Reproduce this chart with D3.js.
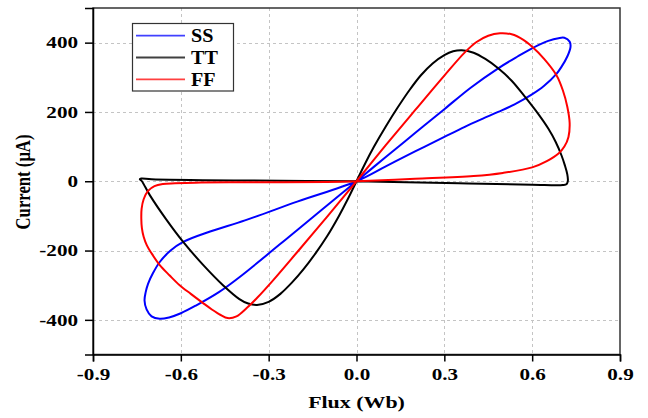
<!DOCTYPE html>
<html>
<head>
<meta charset="utf-8">
<script src="https://cdn.jsdelivr.net/npm/d3@7"></script>
<style>
  html, body { margin: 0; padding: 0; background: #fff; }
  svg { display: block; }
  text { font-family: "Liberation Serif", "Times New Roman", serif; font-weight: bold; fill: #000; }
</style>
</head>
<body>
<svg id="chart" width="648" height="418"></svg>
<script>
// Pinched hysteresis loops: current vs flux for three process corners
const seriesNames = ["SS", "TT", "FF"];
const seriesColors = ["#0000ff", "#000000", "#ff0000"];

const ssFlux = [0, 0.1, 0.2, 0.3, 0.39, 0.484, 0.55, 0.598, 0.655, 0.69, 0.71, 0.728, 0.731, 0.72, 0.70, 0.683, 0.64, 0.598, 0.54, 0.484, 0.43, 0.37, 0.3, 0.2, 0.1, 0,
  -0.2, -0.381, -0.5, -0.592, -0.635, -0.672, -0.695, -0.712, -0.72, -0.724, -0.717, -0.70, -0.672, -0.64, -0.6, -0.547, -0.47, -0.4, -0.2, 0];
const ssCurrent = [0, 70, 139, 208, 270, 326, 360, 383, 405, 413, 414, 403, 388, 360, 330, 310, 275, 250, 222, 200, 180, 157, 128, 86, 43, 0,
  -58, -113, -145, -175, -200, -233, -265, -296, -320, -344, -370, -390, -397, -393, -381, -358, -320, -277, -139, 0];

const ttFlux = [0, 0.03, 0.06, 0.10, 0.14, 0.18, 0.22, 0.26, 0.30, 0.33, 0.36, 0.40, 0.44, 0.484, 0.53, 0.575, 0.62, 0.655, 0.68, 0.70, 0.712, 0.72, 0.722, 0.718, 0.705, 0.6, 0.35, 0,
  -0.38, -0.70, -0.735, -0.74, -0.733, -0.706, -0.65, -0.592, -0.52, -0.456, -0.40, -0.37, -0.34, -0.30, -0.26, -0.22, -0.18, -0.14, -0.10, -0.06, -0.03, 0];
const ttCurrent = [0, 52, 100, 158, 212, 262, 306, 340, 364, 375, 378, 371, 353, 326, 290, 244, 195, 152, 114, 75, 45, 20, 2, -8, -11, -10, -6, 0,
  2, 6, 8, 6, 0, -40, -110, -175, -245, -300, -340, -353, -357, -348, -325, -292, -253, -208, -158, -100, -52, 0];

const ffFlux = [0, 0.1, 0.2, 0.3, 0.37, 0.41, 0.45, 0.49, 0.53, 0.57, 0.6, 0.64, 0.683, 0.705, 0.72, 0.728, 0.724, 0.71, 0.69, 0.65, 0.6, 0.5, 0.4, 0.2, 0,
  -0.1, -0.38, -0.55, -0.62, -0.661, -0.69, -0.712, -0.727, -0.734, -0.735, -0.733, -0.727, -0.716, -0.70, -0.672, -0.638, -0.604, -0.566, -0.525, -0.494, -0.464, -0.44, -0.41, -0.375, -0.34, -0.285, -0.2, -0.1, 0];
const ffCurrent = [0, 104, 205, 305, 372, 402, 420, 427, 424, 408, 388, 354, 306, 262, 215, 168, 128, 100, 80, 58, 40, 24, 15, 7, 0,
  -2, -3, -4, -6, -8, -14, -28, -52, -80, -108, -135, -160, -185, -208, -242, -272, -300, -325, -351, -370, -386, -395, -390, -366, -337, -286, -202, -102, 0];

const xTicks = [-0.9, -0.6, -0.3, 0.0, 0.3, 0.6, 0.9];
const yTicks = [-400, -200, 0, 200, 400];
const xDomain = [-0.9, 0.9];
const yDomain = [-500, 500];

const series = [
  { name: seriesNames[0], color: seriesColors[0], flux: ssFlux, current: ssCurrent },
  { name: seriesNames[1], color: seriesColors[1], flux: ttFlux, current: ttCurrent },
  { name: seriesNames[2], color: seriesColors[2], flux: ffFlux, current: ffCurrent }
];

const svg = d3.select("#chart");
const plot = { left: 93, right: 620, top: 8, bottom: 354.5 };

const x = d3.scaleLinear().domain(xDomain).range([plot.left, plot.right]);
const y = d3.scaleLinear().domain(yDomain).range([plot.bottom, plot.top]);

// grid
const grid = svg.append("g").attr("stroke", "#c4c4c4").attr("stroke-width", 1).attr("stroke-dasharray", "3,3");
grid.selectAll("line.gx").data(xTicks.slice(1, -1)).join("line")
  .attr("x1", d => Math.round(x(d)) + 0.5).attr("x2", d => Math.round(x(d)) + 0.5)
  .attr("y1", plot.top).attr("y2", plot.bottom);
grid.selectAll("line.gy").data(yTicks).join("line")
  .attr("x1", plot.left).attr("x2", plot.right)
  .attr("y1", d => Math.round(y(d)) + 0.5).attr("y2", d => Math.round(y(d)) + 0.5);

// curves
const line = d3.line().x(d => x(d[0])).y(d => y(d[1])).curve(d3.curveCatmullRom.alpha(0.5));
const curves = svg.append("g").attr("fill", "none").attr("stroke-width", 2).attr("stroke-linejoin", "round");
series.forEach(s => {
  curves.append("path")
    .attr("d", line(d3.zip(s.flux, s.current)))
    .attr("stroke", s.color);
});

// frame (top / right)
svg.append("rect")
  .attr("x", plot.left).attr("y", plot.top)
  .attr("width", plot.right - plot.left).attr("height", plot.bottom - plot.top)
  .attr("fill", "none").attr("stroke", "#333").attr("stroke-width", 1.5);

// axes (plain hyphen for negative labels)
const hyphen = f => d => f(d).replace("\u2212", "-");
const sx = 1.28;
const xAxis = d3.axisBottom(x).tickValues(xTicks).tickFormat(hyphen(d3.format(".1f"))).tickSize(7).tickPadding(7);
const yAxis = d3.axisLeft(y).tickValues(yTicks).tickFormat(hyphen(d3.format("d"))).tickSize(8).tickPadding(7);

const gx = svg.append("g").attr("transform", `translate(0,${plot.bottom})`).call(xAxis);
const gy = svg.append("g").attr("transform", `translate(${plot.left},0)`).call(yAxis);
[gx, gy].forEach(g => {
  g.attr("font-family", null);
  g.select(".domain").attr("stroke", "#000").attr("stroke-width", 1.5);
  g.selectAll(".tick line").attr("stroke", "#000").attr("stroke-width", 1.5);
  g.selectAll(".tick text").attr("font-size", 16.5);
});
gx.selectAll(".tick text").attr("transform", `scale(${sx},1)`);
gy.selectAll(".tick text").attr("x", -15 / sx).attr("transform", `scale(${sx},1)`);

// axis titles
svg.append("text")
  .attr("transform", `translate(${(plot.left + plot.right) / 2},408) scale(1.37,1)`)
  .attr("text-anchor", "middle").attr("font-size", 16)
  .text("Flux (Wb)");
svg.append("text")
  .attr("transform", `translate(30,182) rotate(-90) scale(1,1.25)`)
  .attr("text-anchor", "middle").attr("font-size", 16.7)
  .text("Current (μA)");

// legend
const legend = svg.append("g");
legend.append("rect")
  .attr("x", 132.5).attr("y", 23.5).attr("width", 101).attr("height", 67.5)
  .attr("fill", "#fff").attr("stroke", "#333").attr("stroke-width", 1.2);
const items = legend.selectAll("g.item").data(series).join("g")
  .attr("transform", (d, i) => `translate(0,${35.7 + i * 21.8})`);
items.append("line")
  .attr("x1", 136).attr("x2", 185).attr("y1", 0).attr("y2", 0)
  .attr("stroke", d => d.color).attr("stroke-width", 1.8).attr("stroke-opacity", 0.75);
items.append("text")
  .attr("transform", "translate(191,6.5) scale(1.12,1)")
  .attr("font-size", 18)
  .text(d => d.name);
</script>
</body>
</html>
